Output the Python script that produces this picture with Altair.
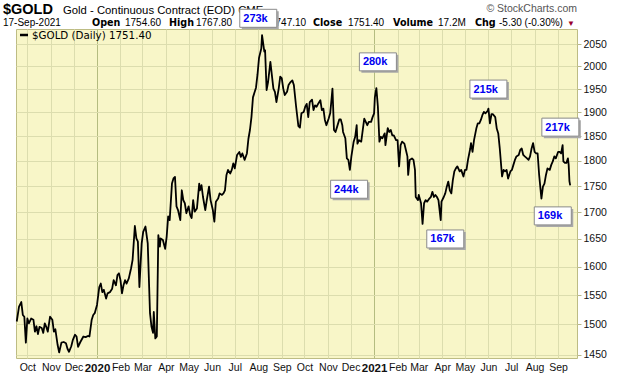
import altair as alt
import pandas as pd

# ---- price series ($GOLD daily close) ----
dates = [
    "2019-09-17", "2019-09-20", "2019-09-23", "2019-09-25", "2019-09-27", "2019-09-29",
    "2019-10-01", "2019-10-03", "2019-10-06", "2019-10-09", "2019-10-11", "2019-10-13",
    "2019-10-15", "2019-10-17", "2019-10-20", "2019-10-22", "2019-10-24", "2019-10-26",
    "2019-10-28", "2019-10-31", "2019-11-03", "2019-11-05", "2019-11-07", "2019-11-10",
    "2019-11-12", "2019-11-15", "2019-11-18", "2019-11-21", "2019-11-23", "2019-11-25",
    "2019-11-28", "2019-11-30", "2019-12-03", "2019-12-05", "2019-12-07", "2019-12-10",
    "2019-12-14", "2019-12-17", "2019-12-20", "2019-12-22", "2019-12-25", "2019-12-27",
    "2019-12-29", "2020-01-01", "2020-01-04", "2020-01-06", "2020-01-08", "2020-01-10",
    "2020-01-13", "2020-01-15", "2020-01-18", "2020-01-21", "2020-01-23", "2020-01-26",
    "2020-01-28", "2020-01-30", "2020-02-01", "2020-02-03", "2020-02-05", "2020-02-07",
    "2020-02-09", "2020-02-12", "2020-02-15", "2020-02-17", "2020-02-20", "2020-02-22",
    "2020-02-24", "2020-02-26", "2020-02-29", "2020-03-02", "2020-03-05", "2020-03-08",
    "2020-03-11", "2020-03-13", "2020-03-15", "2020-03-16", "2020-03-18", "2020-03-20",
    "2020-03-22", "2020-03-24", "2020-03-25", "2020-03-28", "2020-03-31", "2020-04-02",
    "2020-04-04", "2020-04-06", "2020-04-09", "2020-04-11", "2020-04-13", "2020-04-15",
    "2020-04-17", "2020-04-20", "2020-04-22", "2020-04-24", "2020-04-26", "2020-04-28",
    "2020-05-01", "2020-05-03", "2020-05-05", "2020-05-07", "2020-05-09", "2020-05-12",
    "2020-05-15", "2020-05-16", "2020-05-18", "2020-05-20", "2020-05-23", "2020-05-25",
    "2020-05-28", "2020-05-30", "2020-06-02", "2020-06-04", "2020-06-06", "2020-06-09",
    "2020-06-11", "2020-06-14", "2020-06-16", "2020-06-18", "2020-06-20", "2020-06-22",
    "2020-06-25", "2020-06-27", "2020-06-29", "2020-07-01", "2020-07-04", "2020-07-07",
    "2020-07-09", "2020-07-11", "2020-07-14", "2020-07-17", "2020-07-19", "2020-07-21",
    "2020-07-23", "2020-07-25", "2020-07-29", "2020-07-31", "2020-08-02", "2020-08-05",
    "2020-08-06", "2020-08-09", "2020-08-10", "2020-08-12", "2020-08-14", "2020-08-17",
    "2020-08-19", "2020-08-21", "2020-08-23", "2020-08-25", "2020-08-28", "2020-08-30",
    "2020-09-01", "2020-09-03", "2020-09-05", "2020-09-08", "2020-09-10", "2020-09-12",
    "2020-09-15", "2020-09-17", "2020-09-20", "2020-09-23", "2020-09-25", "2020-09-27",
    "2020-09-30", "2020-10-02", "2020-10-04", "2020-10-06", "2020-10-08", "2020-10-11",
    "2020-10-13", "2020-10-15", "2020-10-17", "2020-10-19", "2020-10-22", "2020-10-24",
    "2020-10-26", "2020-10-28", "2020-10-30", "2020-11-02", "2020-11-04", "2020-11-06",
    "2020-11-07", "2020-11-09", "2020-11-11", "2020-11-13", "2020-11-16", "2020-11-18",
    "2020-11-20", "2020-11-21", "2020-11-24", "2020-11-26", "2020-11-28", "2020-11-30",
    "2020-12-02", "2020-12-05", "2020-12-07", "2020-12-09", "2020-12-10", "2020-12-12",
    "2020-12-15", "2020-12-17", "2020-12-19", "2020-12-21", "2020-12-23", "2020-12-25",
    "2020-12-28", "2020-12-30", "2021-01-01", "2021-01-02", "2021-01-04", "2021-01-06",
    "2021-01-08", "2021-01-10", "2021-01-12", "2021-01-15", "2021-01-16", "2021-01-19",
    "2021-01-21", "2021-01-23", "2021-01-25", "2021-01-27", "2021-01-30", "2021-02-01",
    "2021-02-03", "2021-02-05", "2021-02-07", "2021-02-10", "2021-02-12", "2021-02-14",
    "2021-02-15", "2021-02-17", "2021-02-20", "2021-02-22", "2021-02-24", "2021-02-25",
    "2021-02-28", "2021-03-01", "2021-03-04", "2021-03-06", "2021-03-08", "2021-03-10",
    "2021-03-12", "2021-03-15", "2021-03-17", "2021-03-19", "2021-03-21", "2021-03-23",
    "2021-03-25", "2021-03-27", "2021-03-30", "2021-03-31", "2021-04-03", "2021-04-05",
    "2021-04-07", "2021-04-09", "2021-04-11", "2021-04-13", "2021-04-15", "2021-04-17",
    "2021-04-19", "2021-04-21", "2021-04-24", "2021-04-26", "2021-04-29", "2021-05-01",
    "2021-05-03", "2021-05-05", "2021-05-08", "2021-05-09", "2021-05-11", "2021-05-13",
    "2021-05-16", "2021-05-18", "2021-05-20", "2021-05-22", "2021-05-24", "2021-05-26",
    "2021-05-28", "2021-05-31", "2021-06-01", "2021-06-03", "2021-06-05", "2021-06-07",
    "2021-06-10", "2021-06-12", "2021-06-14", "2021-06-16", "2021-06-19", "2021-06-21",
    "2021-06-23", "2021-06-25", "2021-06-27", "2021-06-30", "2021-07-02", "2021-07-04",
    "2021-07-06", "2021-07-08", "2021-07-11", "2021-07-13", "2021-07-15", "2021-07-17",
    "2021-07-19", "2021-07-22", "2021-07-24", "2021-07-26", "2021-07-28", "2021-07-30",
    "2021-08-01", "2021-08-03", "2021-08-05", "2021-08-07", "2021-08-10", "2021-08-12",
    "2021-08-14", "2021-08-16", "2021-08-18", "2021-08-21", "2021-08-23", "2021-08-25",
    "2021-08-27", "2021-08-29", "2021-09-01", "2021-09-03", "2021-09-05", "2021-09-07",
    "2021-09-08", "2021-09-10", "2021-09-12", "2021-09-14", "2021-09-15", "2021-09-16",
    "2021-09-17",
]
prices = [
    1505, 1530, 1538, 1516, 1513, 1470,
    1510, 1502, 1510, 1508, 1488, 1497,
    1484, 1496, 1494, 1486, 1502, 1496,
    1488, 1513, 1508, 1488, 1492, 1466,
    1454, 1470, 1471, 1469, 1460, 1455,
    1464, 1474, 1483, 1480, 1463, 1471,
    1480, 1479, 1481, 1480, 1508, 1516,
    1519, 1533, 1564, 1570, 1555, 1559,
    1544, 1553, 1555, 1561, 1576, 1567,
    1585, 1588, 1576, 1553, 1567, 1576,
    1570, 1579, 1597, 1612, 1674, 1651,
    1645, 1564, 1642, 1663, 1673, 1642,
    1519, 1496, 1486, 1521, 1477, 1480,
    1657, 1636, 1651, 1648, 1632, 1654,
    1692, 1685, 1755, 1765, 1768, 1711,
    1704, 1685, 1742, 1723, 1717, 1698,
    1711, 1695, 1689, 1723, 1701, 1707,
    1755, 1742, 1752, 1729, 1704, 1723,
    1749, 1723, 1704, 1682, 1720, 1726,
    1736, 1733, 1736, 1742, 1772, 1782,
    1775, 1782, 1795, 1785, 1812, 1818,
    1808, 1815, 1802, 1815, 1845, 1863,
    1890, 1932, 1953, 1982, 2019, 2040,
    2071, 2033, 2036, 1948, 1966, 2010,
    1980, 1951, 1944, 1922, 1951, 1977,
    1974, 1951, 1937, 1944, 1959, 1964,
    1969, 1959, 1912, 1871, 1868, 1898,
    1901, 1912, 1918, 1890, 1922, 1927,
    1905, 1915, 1912, 1918, 1926, 1905,
    1908, 1884, 1873, 1887, 1898, 1932,
    1951, 1863, 1859, 1869, 1885, 1885,
    1873, 1859, 1846, 1805, 1802, 1782,
    1809, 1839, 1849, 1873, 1835, 1842,
    1839, 1863, 1887, 1880, 1873, 1880,
    1880, 1890, 1898, 1932, 1952, 1912,
    1839, 1849, 1846, 1856, 1832, 1867,
    1859, 1863, 1852, 1852, 1842, 1842,
    1789, 1832, 1839, 1835, 1822, 1809,
    1772, 1802, 1805, 1802, 1782, 1729,
    1723, 1733, 1717, 1678, 1717, 1723,
    1720, 1726, 1729, 1739, 1729, 1733,
    1729, 1723, 1685, 1720, 1729, 1736,
    1749, 1759, 1742, 1736, 1762, 1779,
    1785, 1789, 1779, 1782, 1769, 1782,
    1782, 1802, 1825, 1836, 1818, 1842,
    1866, 1877, 1877, 1884, 1894, 1901,
    1898, 1903, 1908, 1877, 1896, 1896,
    1890, 1866, 1856, 1825, 1769, 1782,
    1779, 1782, 1765, 1779, 1782, 1792,
    1802, 1809, 1812, 1822, 1825, 1812,
    1809, 1805, 1802, 1809, 1825, 1836,
    1818, 1815, 1815, 1772, 1726, 1749,
    1755, 1772, 1785, 1782, 1792, 1799,
    1809, 1805, 1818, 1818, 1815, 1832,
    1799, 1796, 1796, 1805, 1792, 1760,
    1751.4,
]

# ---- volume annotations ----
ann_labels = ["273k", "280k", "244k", "215k", "167k", "217k", "169k"]
ann_dates = ["2020-08-01", "2021-01-06", "2020-11-29", "2021-06-01",
             "2021-04-05", "2021-09-04", "2021-08-25"]
ann_prices = [2110, 2010, 1744, 1950, 1650, 1869, 1693]

# ---- axis ticks ----
y_ticks = [1450, 1500, 1550, 1600, 1650, 1700, 1750, 1800, 1850, 1900, 1950, 2000, 2050]

# ---- header texts ----
title_symbol = "$GOLD"
title_name = "Gold - Continuous Contract (EOD) CME"
quote_date = "17-Sep-2021"
quote_fields = [("Open", "1754.60"), ("High", "1767.80"), ("Low", "1747.10"),
                ("Close", "1751.40"), ("Volume", "17.2M"), ("Chg", "-5.30 (-0.30%)")]
legend_text = "$GOLD (Daily) 1751.40"
credit = "\u00a9 StockCharts.com"

df = pd.DataFrame({"date": pd.to_datetime(dates), "price": prices})
ann_df = pd.DataFrame({"date": pd.to_datetime(ann_dates), "price": ann_prices, "label": ann_labels})
one = pd.DataFrame({"k": [0]})

PL, PT = 16, 29  # plot origin in the page
FONT = "Liberation Sans"

x_scale = alt.Scale(domain=[alt.DateTime(year=2019, month=9, date=16),
                            alt.DateTime(year=2021, month=9, date=26)], nice=False)
y_scale = alt.Scale(type="log", domain=[1445, 2085], nice=False, zero=False)

is_jan = "month(datum.value) == 0"
x_axis = alt.Axis(
    title=None,
    tickCount=alt.TimeIntervalStep(interval="month", step=1),
    labelExpr="month(datum.value) == 0 ? timeFormat(datum.value, '%Y') : timeFormat(datum.value, '%b')",
    labelFontWeight={"condition": {"test": is_jan, "value": "bold"}, "value": "normal"},
    labelFontSize={"condition": {"test": is_jan, "value": 11.5}, "value": 10.5},
    gridColor={"condition": {"test": is_jan, "value": "#B4BC80"}, "value": "#DCDDAE"},
    grid=True, gridWidth=1, domain=False, ticks=False,
    labelFont=FONT, labelColor="#111111", labelPadding=4,
    labelOverlap=False, labelFlush=False, labelBound=False, labelAlign="center",
)
y_axis = alt.Axis(
    title=None, orient="right", values=y_ticks, format="d",
    grid=True, gridColor="#DCDDAE", gridWidth=1, domain=False,
    tickSize=4, tickColor="#B8B888", labelPadding=2,
    labelFont=FONT, labelFontSize=10.5, labelColor="#111111",
)

X = alt.X("date:T", scale=x_scale, axis=x_axis)
Y = alt.Y("price:Q", scale=y_scale, axis=y_axis)

line = alt.Chart(df).mark_line(color="black", strokeWidth=1.8, strokeJoin="round").encode(x=X, y=Y)


def label(txt, ax, ay, size=10.0, weight="normal", font=FONT, color="black", align="left"):
    return alt.Chart(one).mark_text(
        text=txt, align=align, baseline="alphabetic", fontSize=size,
        fontWeight=weight, font=font, color=color,
    ).encode(x=alt.value(ax - PL), y=alt.value(ay - PT))


layers = [line]
layers.append(label(title_symbol, 3, 14, size=14.5, weight="bold"))
layers.append(label(title_name, 63, 14, size=11.3))
layers.append(label(credit, 577, 12, size=10.5, color="#555555", align="right"))
layers.append(label(quote_date, 3, 26, size=10))
field_x = [(92, 125), (169, 196), (241, 270), (313, 348), (393, 438), (475, 499)]
for (name, val), (xn, xv) in zip(quote_fields, field_x):
    layers.append(label(name, xn, 26, size=9.6, weight="bold", font="DejaVu Sans"))
    layers.append(label(val, xv, 26, size=10))
layers.append(label("\u25bc", 567, 26, size=8, color="#99002E"))

# in-plot legend
layers.append(alt.Chart(one).mark_rule(color="black", strokeWidth=2.5).encode(
    x=alt.value(20 - PL), x2=alt.value(28 - PL), y=alt.value(35 - PT)))
layers.append(label(legend_text, 32, 39, size=10.3, font="DejaVu Sans"))

# volume callouts
shadow = alt.Chart(ann_df).mark_rect(width=37, height=18, color="#A9A9A9",
                                     xOffset=2, yOffset=2).encode(x=X, y=Y)
box = alt.Chart(ann_df).mark_rect(width=37, height=18, fill="white",
                                  stroke="#8A8A8A", strokeWidth=1).encode(x=X, y=Y)
ann_text = alt.Chart(ann_df).mark_text(
    align="left", baseline="middle", dx=-15, dy=0.5, font=FONT, fontWeight="bold",
    fontSize=11, color="#0000F0").encode(x=X, y=Y, text="label:N")
layers += [shadow, box, ann_text]

chart = alt.layer(*layers).properties(
    width=561, height=329,
    autosize=alt.AutoSizeParams(type="none"),
    padding={"left": PL, "top": PT, "right": 43, "bottom": 18},
    background="white",
).configure_view(fill="#F8F6C8", stroke="#BDBC84", strokeWidth=1)

chart.save("out.html", embed_options={"renderer": "svg", "actions": False})
